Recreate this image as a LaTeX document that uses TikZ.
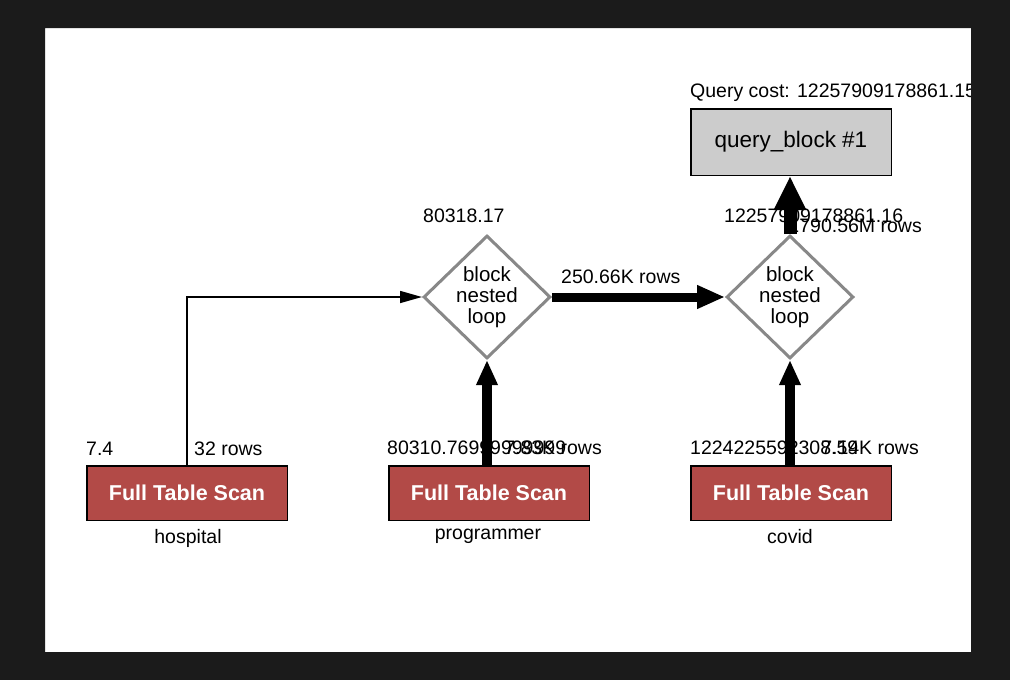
\documentclass[tikz,border=0pt]{standalone}
\usepackage{fontspec}
\setmainfont{Liberation Sans}
\usetikzlibrary{shapes.geometric,arrows.meta}
\definecolor{scanred}{HTML}{B24A47}
\definecolor{qgray}{HTML}{CCCCCC}
\definecolor{dgray}{HTML}{888888}
\definecolor{bgdark}{HTML}{1B1B1B}
\begin{document}
\begin{tikzpicture}[x=1pt,y=-1pt,
  lbl/.style={font=\fontsize{19.5}{22}\selectfont, inner sep=0, anchor=base west},
  lblr/.style={lbl, anchor=base east},
  lblc/.style={lbl, anchor=base},
  scanbox/.style={draw=black, line width=1.5pt, fill=scanred, minimum width=200.5pt, minimum height=54.5pt, inner sep=0, font=\fontsize{21.5}{24}\selectfont\bfseries, text=white},
  qbox/.style={draw=black, line width=1.5pt, fill=qgray, minimum width=200.5pt, minimum height=66.5pt, inner sep=0, font=\fontsize{22.5}{26}\selectfont},
  loopbox/.style={diamond, draw=dgray, line width=3pt, fill=white, minimum width=127pt, minimum height=123pt, inner sep=0, align=center, font=\fontsize{20.5}{21}\selectfont},
  flowthin/.style={line width=1.5pt, -{Triangle[length=22pt,width=12pt]}},
  flowmid/.style={line width=10pt, -{Triangle[length=25pt,width=20pt]}},
  flowwide/.style={line width=9pt, -{Triangle[length=28pt,width=22pt]}},
  flowtop/.style={line width=13pt, -{Triangle[length=34pt,width=30pt]}}
]
\useasboundingbox (0,0) rectangle (1010,680);
\fill[white] (45,28) rectangle (971,652);

% nodes
\node[qbox] (qb) at (791,142) {query\_block \#1};
\node[loopbox] (d1) at (487,297) {block\\nested\\loop};
\node[loopbox] (d2) at (790,297) {block\\nested\\loop};
\node[scanbox] (hosp) at (187,493) {Full Table Scan};
\node[scanbox] (prog) at (489,493) {Full Table Scan};
\node[scanbox] (cov) at (791,493) {Full Table Scan};

% labels
\node[lbl] (qcost) at (690,97) {Query cost: 12257909178861.15};
\node[lbl] (c1) at (423,222) {80318.17};
\node[lbl] (c2) at (724,222) {12257909178861.16};
\node[lbl] (r250) at (561,283) {250.66K rows};
\node[lbl] (c0) at (86,455) {7.4};
\node[lbl] (r0) at (194,455) {32 rows};
\node[lbl] (cprog) at (387,454) {80310.76999999999};
\node[lblr] (rprog) at (602,454) {7.83K rows};
\node[lbl] (ccov) at (690,454) {1224225592308.59};
\node[lblr] (rcov) at (919,454) {7.14K rows};
\node[lblc] (lhosp) at (188,543) {hospital};
\node[lblc] (lprog) at (488,539) {programmer};
\node[lblc] (lcov) at (790,543) {covid};

% connectors
\draw[flowthin] (hosp.north) |- (d1.west);
\draw[flowmid] (prog.north -| d1.south) -- (d1.south);
\draw[flowwide] (d1.east) -- (d2.west);
\draw[flowmid] (cov.north -| d2.south) -- (d2.south);
\draw[flowtop] (d2.north) -- (qb.south -| d2.north);
\node[lblr] (r2) at (922,232) {1790.56M rows};

% dark frame
\fill[bgdark, even odd rule] (0,0) rectangle (1010,680) (45,28) rectangle (971,652);
\end{tikzpicture}
\end{document}
